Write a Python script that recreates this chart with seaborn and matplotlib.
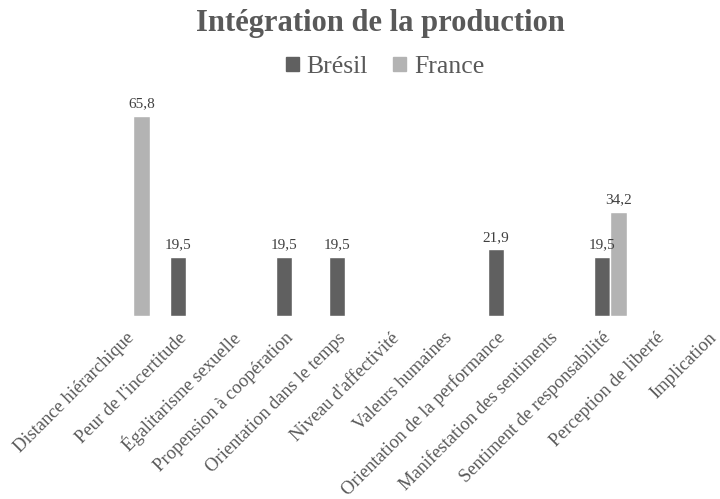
import numpy as np
import pandas as pd
import matplotlib
matplotlib.use('Agg')
import matplotlib.pyplot as plt
import matplotlib.transforms as mtransforms
import seaborn as sns

categories = ["Distance hiérarchique", "Peur de l'incertitude", "Égalitarisme sexuelle",
              "Propension à coopération", "Orientation dans le temps", "Niveau d'affectivité",
              "Valeurs humaines", "Orientation de la performance", "Manifestation des sentiments",
              "Sentiment de responsabilité", "Perception de liberté", "Implication"]
bresil = [np.nan, 19.5, np.nan, 19.5, 19.5, np.nan, np.nan, 21.9, np.nan, 19.5, np.nan, np.nan]
france = [65.8, np.nan, np.nan, np.nan, np.nan, np.nan, np.nan, np.nan, np.nan, 34.2, np.nan, np.nan]
series = ["Brésil", "France"]
colors = {"Brésil": "#606060", "France": "#b3b3b3"}

df = pd.DataFrame({
    "cat": categories * 2,
    "pays": ["Brésil"] * len(categories) + ["France"] * len(categories),
    "val": bresil + france,
}).dropna()

sns.set_theme(style="white")
plt.rcParams['font.family'] = ['Liberation Serif', 'DejaVu Serif']

fig = plt.figure(figsize=(7.2, 4.99), dpi=100)
# plot area runs past the right edge, as in the cropped original
ax = fig.add_axes([107 / 720, 1 - 316 / 499, 613 / 720, 213 / 499])

sns.barplot(data=df, x="cat", y="val", hue="pays", order=categories,
            hue_order=series, palette=colors, width=0.62, saturation=1,
            ax=ax, legend=False, errorbar=None)

for cont in ax.containers:
    labels = [f"{v:.1f}".replace(".", ",") for v in cont.datavalues]
    ax.bar_label(cont, labels=labels, padding=4, fontsize=11, color="#404040")

ax.set_xlim(-0.5, 11.07)
ax.set_ylim(0, 70)
ax.set_xlabel("")
ax.set_ylabel("")
ax.set_yticks([])
ax.set_xticks(range(len(categories)))
ax.set_xticklabels(categories, rotation=45, ha="right", va="center",
                   rotation_mode="anchor", fontsize=13.3, color="#595959")
ax.tick_params(axis="x", length=0, pad=14)
shift = mtransforms.ScaledTranslation(-2 / 100, 0, fig.dpi_scale_trans)
for lbl in ax.get_xticklabels():
    lbl.set_transform(lbl.get_transform() + shift)
for s in ax.spines.values():
    s.set_visible(False)

# title and legend sit a little right of centre in the original
fig.text(380 / 720, 1 - 23 / 499, "Intégration de la production", ha="center", va="center",
         fontsize=22, fontweight="bold", color="#595959")

handles = [plt.Rectangle((0, 0), 1, 1, color=colors[s]) for s in series]
fig.legend(handles, series, loc="center", bbox_to_anchor=(385 / 720, 1 - 67 / 499), ncol=2,
           frameon=False, fontsize=18.5, handlelength=0.5, handleheight=0.5,
           handletextpad=0.3, columnspacing=1.0, labelcolor="#595959")

fig.savefig("out.png", dpi=100)
